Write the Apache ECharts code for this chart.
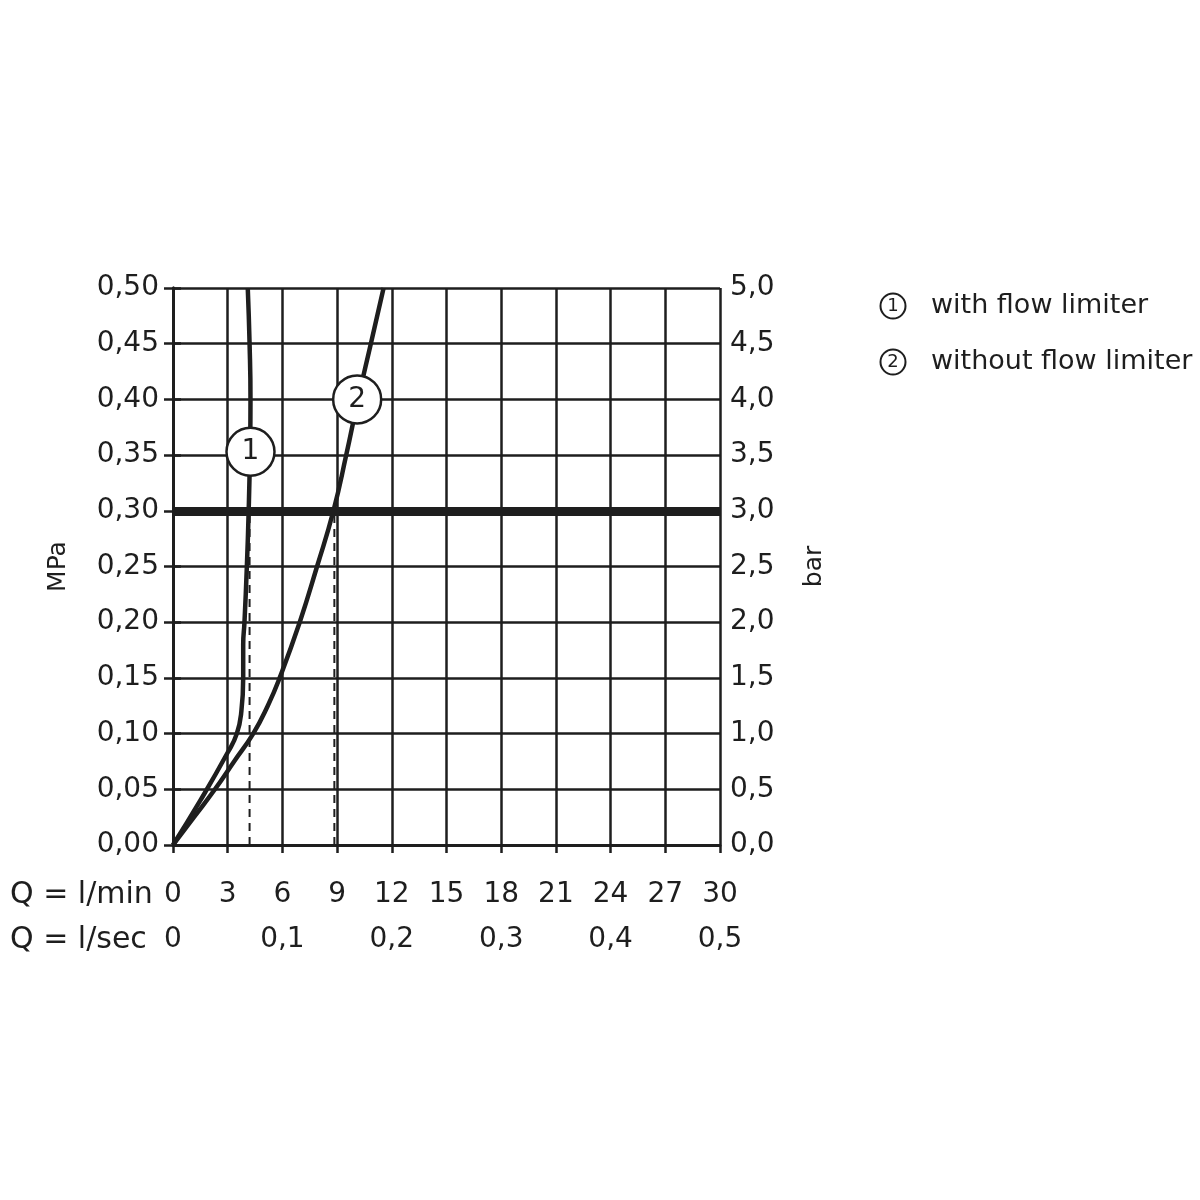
<!DOCTYPE html>
<html>
<head>
<meta charset="utf-8">
<script src="https://cdn.jsdelivr.net/npm/echarts@6/dist/echarts.min.js"></script>
<style>html,body{margin:0;padding:0;background:#fff;}#c{width:1200px;height:1200px;}</style>
</head>
<body>
<div id="c"></div>
<script>
// Flow Q in l/min vs pressure in MPa
const curveWithLimiter = [
  [0,0],[1.5,0.04],[3,0.083],[3.5,0.10],[3.75,0.12],[3.85,0.15],[3.85,0.18],[3.92,0.20],
  [4.05,0.25],[4.15,0.30],[4.22,0.35],[4.25,0.40],[4.2,0.45],[4.1,0.50]
];
const curveWithoutLimiter = [
  [0,0],[1.15,0.025],[2.3,0.05],[3.35,0.075],[4.4,0.10],[5.2,0.125],[5.85,0.15],[6.95,0.20],
  [7.9,0.25],[8.8,0.30],[9.5,0.35],[10.15,0.40],[10.85,0.45],[11.55,0.50]
];
const dashedLimiter = [[4.2,0],[4.2,0.30]];
const dashedNoLimiter = [[8.85,0],[8.85,0.30]];
const referencePressure = 0.30;
const curveMarkers = [
  {name:'1', value:[4.25,0.353]},
  {name:'2', value:[10.1,0.40]}
];
const legendDigits = ['1', '2'];
const legendTexts = ['with flow limiter', 'without flow limiter'];
const lminLabel = 'Q = l/min';
const lsecLabel = 'Q = l/sec';

const ink = '#1e1e1e';
const font = 'DejaVu Sans';
const comma = (v, d) => v.toFixed(d).replace('.', ',');

const graphics = [];
legendTexts.forEach((t, i) => {
  const cy = 306 + i * 56;
  graphics.push({type: 'circle', shape: {cx: 893, cy: cy, r: 12.5}, style: {fill: '#fff', stroke: ink, lineWidth: 2}});
  graphics.push({type: 'text', x: 893, y: cy, style: {text: legendDigits[i], fill: ink, font: '18px "DejaVu Sans"', align: 'center', verticalAlign: 'middle'}});
  graphics.push({type: 'text', x: 931, y: cy, style: {text: t, fill: ink, font: '27px "DejaVu Sans"', verticalAlign: 'middle'}});
});
graphics.push({type: 'text', x: 10, y: 895, style: {text: lminLabel, fill: ink, font: '30px "DejaVu Sans"', verticalAlign: 'middle'}});
graphics.push({type: 'text', x: 10, y: 940, style: {text: lsecLabel, fill: ink, font: '30px "DejaVu Sans"', verticalAlign: 'middle'}});

const chart = echarts.init(document.getElementById('c'));
chart.setOption({
  backgroundColor: '#fff',
  animation: false,
  grid: {left: 173, right: 480, top: 288, bottom: 355},
  xAxis: [
    {
      type: 'value', min: 0, max: 30, interval: 3, position: 'bottom',
      axisLine: {show: true, lineStyle: {color: ink, width: 3}},
      axisTick: {show: true, length: 8, lineStyle: {color: ink, width: 2.5}},
      splitLine: {show: true, lineStyle: {color: ink, width: 2.5}},
      axisLabel: {color: ink, fontFamily: font, fontSize: 28, margin: 36, formatter: v => String(v)}
    },
    {
      type: 'value', min: 0, max: 0.5, interval: 0.1, position: 'bottom', offset: 45,
      axisLine: {show: false}, axisTick: {show: false}, splitLine: {show: false},
      axisLabel: {color: ink, fontFamily: font, fontSize: 28, margin: 36, formatter: v => v === 0 ? '0' : comma(v, 1)}
    }
  ],
  yAxis: [
    {
      type: 'value', min: 0, max: 0.5, interval: 0.05, position: 'left',
      axisLine: {show: true, lineStyle: {color: ink, width: 3}},
      axisTick: {show: true, length: 9, lineStyle: {color: ink, width: 2.5}},
      splitLine: {show: true, lineStyle: {color: ink, width: 2.5}},
      axisLabel: {color: ink, fontFamily: font, fontSize: 28, margin: 14, formatter: v => comma(v, 2)},
      name: 'MPa', nameLocation: 'middle', nameGap: 102, nameRotate: 90,
      nameTextStyle: {color: ink, fontFamily: font, fontSize: 25}
    },
    {
      type: 'value', min: 0, max: 5, interval: 0.5, position: 'right',
      axisLine: {show: true, lineStyle: {color: ink, width: 3}},
      axisTick: {show: true, length: 8, lineStyle: {color: ink, width: 2.5}},
      splitLine: {show: false},
      axisLabel: {color: ink, fontFamily: font, fontSize: 28, margin: 10, formatter: v => comma(v, 1)},
      name: 'bar', nameLocation: 'middle', nameGap: 82, nameRotate: 90,
      nameTextStyle: {color: ink, fontFamily: font, fontSize: 25}
    }
  ],
  series: [
    {
      type: 'line', data: dashedLimiter, symbol: 'none', z: 3,
      lineStyle: {color: ink, width: 2, type: [8, 6]},
      markLine: {
        silent: true, symbol: 'none', label: {show: false},
        lineStyle: {color: ink, width: 9, type: 'solid'},
        data: [{yAxis: referencePressure}]
      }
    },
    {type: 'line', data: dashedNoLimiter, symbol: 'none', z: 3, lineStyle: {color: ink, width: 2, type: [8, 6]}},
    {type: 'line', data: curveWithLimiter, symbol: 'none', smooth: 0.5, z: 4, lineStyle: {color: ink, width: 4.5}},
    {type: 'line', data: curveWithoutLimiter, symbol: 'none', smooth: 0.5, z: 4, lineStyle: {color: ink, width: 4.5}},
    {
      type: 'scatter', data: curveMarkers, symbol: 'circle', symbolSize: 48, z: 6,
      itemStyle: {color: '#fff', borderColor: ink, borderWidth: 2.5, opacity: 1},
      label: {show: true, position: 'inside', formatter: p => p.name, color: ink, fontFamily: font, fontSize: 28}
    }
  ],
  graphic: graphics
});
</script>
</body>
</html>
